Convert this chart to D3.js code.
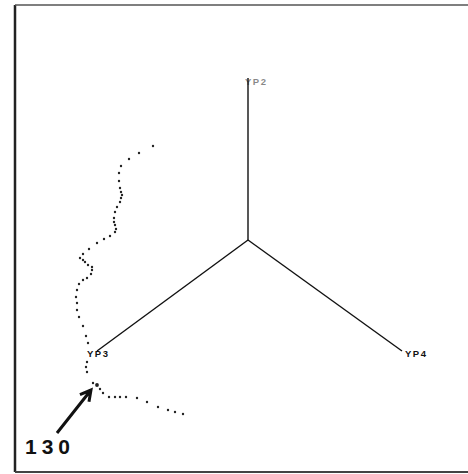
<!DOCTYPE html>
<html>
<head>
<meta charset="utf-8">
<script src="https://cdn.jsdelivr.net/npm/d3@7"></script>
<style>
  body { margin: 0; background: #fff; }
  svg { display: block; }
  .axis-line { stroke: #111; stroke-width: 1.4; fill: none; }
  .axis-label { font-family: "Liberation Sans", Arial, sans-serif; font-weight: bold; font-size: 9.5px; fill: #111; letter-spacing: 1.5px; }
</style>
</head>
<body>
<script>
var width = 468,
    height = 474;

// coordinate space: origin at the centre of the three axes
var axisNames = ["YP2", "YP3", "YP4"];
var axisEndX = [0, -151, 154];
var axisEndY = [162, -111, -111];

// trajectory (same units)
var trajX = [-95, -109, -119, -127, -129, -129, -128, -127, -126, -127, -128, -131, -133, -134,
  -134, -133, -132, -133, -138, -144, -151, -159, -165, -168, -165, -163, -160, -156, -156,
  -157, -161, -165, -169, -171, -172, -171, -171, -169, -165, -162, -160, -161, -162, -161,
  -155, -151, -148, -145, -139, -133, -128, -122, -111, -101, -90, -80, -73, -65];
var trajY = [94, 87, 81, 74, 67, 59, 52, 48, 45, 42, 38, 33, 28, 22,
  18, 15, 11, 8, 4, 1, -3, -9, -14, -18, -20, -22, -25, -27, -30,
  -34, -38, -40, -44, -50, -57, -63, -70, -77, -86, -96, -103, -122, -127, -132,
  -143, -145, -149, -153, -157, -157, -157, -157, -158, -162, -167, -170, -172, -174];

// marked point and its annotation
var markLabel = "130";
var markIndex = 45;
var arrowFrom = [-191, -193];

var x = d3.scaleLinear().domain([-248, 220]).range([0, width]);
var y = d3.scaleLinear().domain([240, -234]).range([0, height]);

var svg = d3.select("body").append("svg")
  .attr("width", width)
  .attr("height", height);

// border (left, top, bottom only)
svg.append("path")
  .attr("d", "M15,5V472")
  .attr("stroke", "#222").attr("stroke-width", 2.5);
svg.append("path")
  .attr("d", "M15,5H468")
  .attr("stroke", "#555").attr("stroke-width", 1.5);
svg.append("path")
  .attr("d", "M15,472H468")
  .attr("stroke", "#444").attr("stroke-width", 2);

// axes
svg.append("g").selectAll("line")
  .data(axisNames)
  .enter().append("line")
    .attr("class", "axis-line")
    .attr("x1", x(0)).attr("y1", y(0))
    .attr("x2", function(d, i) { return x(axisEndX[i]); })
    .attr("y2", function(d, i) { return y(axisEndY[i]); });

var labelDx = [-3, -10, 3],
    labelDy = [7, 6, 6];
svg.append("g").selectAll("text")
  .data(axisNames)
  .enter().append("text")
    .attr("class", "axis-label")
    .attr("x", function(d, i) { return x(axisEndX[i]) + labelDx[i]; })
    .attr("y", function(d, i) { return y(axisEndY[i]) + labelDy[i]; })
    .attr("opacity", function(d, i) { return i === 0 ? 0.5 : 1; })
    .text(function(d) { return d; });

// dotted trajectory
svg.append("g").selectAll("circle")
  .data(d3.range(trajX.length))
  .enter().append("circle")
    .attr("cx", function(i) { return x(trajX[i]); })
    .attr("cy", function(i) { return y(trajY[i]); })
    .attr("r", function(i) { return i === markIndex ? 1.9 : 1.2; })
    .attr("fill", "#222");

// arrow pointing at the marked point
var tipX = x(trajX[markIndex]) - 6,
    tipY = y(trajY[markIndex]) + 5,
    fromX = x(arrowFrom[0]),
    fromY = y(arrowFrom[1]);
var ang = Math.atan2(tipY - fromY, tipX - fromX),
    hl = 12;
svg.append("path")
  .attr("d", "M" + fromX + "," + fromY + "L" + tipX + "," + tipY +
    "M" + (tipX - hl * Math.cos(ang - 0.5)) + "," + (tipY - hl * Math.sin(ang - 0.5)) +
    "L" + tipX + "," + tipY +
    "L" + (tipX - hl * Math.cos(ang + 0.5)) + "," + (tipY - hl * Math.sin(ang + 0.5)))
  .attr("stroke", "#111")
  .attr("stroke-width", 3)
  .attr("fill", "none");

svg.append("text")
  .attr("x", 25)
  .attr("y", 454)
  .attr("font-family", "Liberation Sans, Arial, sans-serif")
  .attr("font-weight", "bold")
  .attr("font-size", 21)
  .attr("letter-spacing", 5)
  .attr("fill", "#111")
  .text(markLabel);
</script>
</body>
</html>
